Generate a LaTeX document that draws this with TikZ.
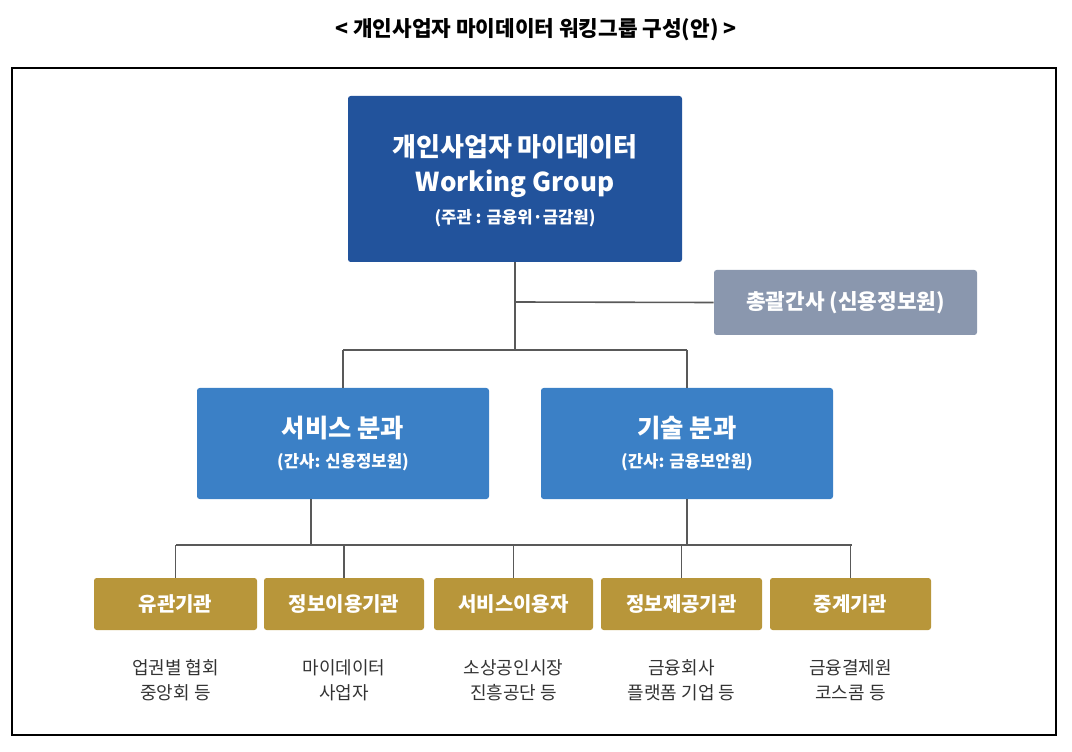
\documentclass[tikz,border=0pt]{standalone}
\usepackage{fontspec}
\setmainfont{Noto Sans CJK KR}
\begin{document}
\begin{tikzpicture}[x=0.75pt,y=-0.75pt,
  box/.style={draw=none,rounded corners=2pt,text=white,font=\bfseries,align=center,inner sep=0pt},
  ln/.style={draw=black!65,line width=1.2pt},
  lab/.style={font=\fontsize{13.5}{19}\selectfont,text=black!80,align=center}]
\useasboundingbox (0,0) rectangle (1072,752);
\definecolor{dblue}{HTML}{22539C}\definecolor{mblue}{HTML}{3B80C6}
\definecolor{gr}{HTML}{8A97AE}\definecolor{gold}{HTML}{B8963A}
\node[font=\bfseries\fontsize{16}{20}\selectfont] (title) at (536,30) {< 개인사업자 마이데이터 워킹그룹 구성(안) >};
\draw[black,line width=1pt] (12,68) rectangle (1056,735);
\node[box,fill=dblue,minimum width=334*0.75pt,minimum height=166*0.75pt] (top) at (515,179) {};
\node[text=white,font=\bfseries\fontsize{19.5}{26}\selectfont,align=center] at (515,166) {개인사업자 마이데이터\\Working Group};
\node[text=white,font=\bfseries\fontsize{12.5}{15}\selectfont] at (515,218) {(주관 : 금융위·금감원)};
\node[box,fill=gr,minimum width=263*0.75pt,minimum height=65*0.75pt,font=\bfseries\fontsize{16}{20}\selectfont] (gen) at (845.5,302.5) {총괄간사 (신용정보원)};
\node[box,fill=mblue,minimum width=292*0.75pt,minimum height=111*0.75pt,font=\bfseries\fontsize{19}{24}\selectfont] (svc) at (343,443.5) {서비스 분과\\[-2pt]{\fontsize{12.5}{24}\selectfont (간사: 신용정보원)}};
\node[box,fill=mblue,minimum width=292*0.75pt,minimum height=111*0.75pt,font=\bfseries\fontsize{19}{24}\selectfont] (tech) at (687,443.5) {기술 분과\\[-2pt]{\fontsize{12.5}{24}\selectfont (간사: 금융보안원)}};
\coordinate (j1) at (515,302);\coordinate (j2) at (515,350);
\coordinate (hl) at (343,350);\coordinate (hr) at (687,350);
\draw[ln] (top.south) -- (j2); \draw[ln] (j1) -- (gen.west);
\draw[ln] (hl) -- (hr); \draw[ln] (hl) -- (svc.north); \draw[ln] (hr) -- (tech.north);
\coordinate (bl) at (176,545);\coordinate (br) at (852,545);
\draw[ln] (311,499) -- (311,545); \draw[ln] (tech.south) -- (687,545);
\draw[ln] (bl) -- (br);
\foreach \n/\x/\w/\t/\a/\b in {g1/175.5/163/유관기관/업권별 협회/중앙회 등,g2/344/160/정보이용기관/마이데이터/사업자,g3/513.5/159/서비스이용자/소상공인시장/진흥공단 등,g4/681.5/161/정보제공기관/금융회사/플랫폼 기업 등,g5/850.5/161/중계기관/금융결제원/코스콤 등}{
  \node[box,fill=gold,minimum width=\w*0.75pt,minimum height=52*0.75pt,font=\bfseries\fontsize{15}{18}\selectfont] (\n) at (\x,604) {\t};
  \draw[ln] (\x,545) -- (\n.north);
  \node[lab] (\n l) at (\x,680) {\a\\\b};
}
\end{tikzpicture}
\end{document}
